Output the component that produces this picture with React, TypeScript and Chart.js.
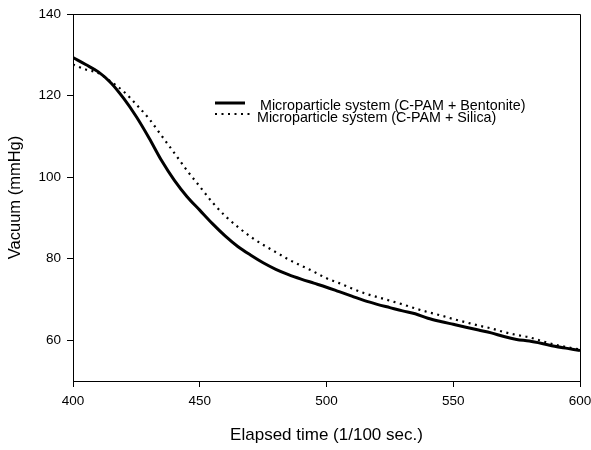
import React, { useEffect, useRef } from "react";
import { Chart, registerables } from "chart.js";

Chart.register(...registerables);

const times = [400, 405, 410, 415, 420, 425, 430, 435, 440, 445, 450, 455, 460, 465, 470, 475, 480, 485, 490, 495, 500, 505, 510, 515, 520, 525, 530, 535, 540, 545, 550, 555, 560, 565, 570, 575, 580, 585, 590, 595, 600];

const bentonite = [129.3, 127.6, 125.8, 123.1, 119.3, 114.8, 109.6, 104.0, 99.2, 95.2, 91.9, 88.6, 85.6, 83.0, 80.9, 79.0, 77.4, 76.1, 75.0, 74.0, 73.0, 71.9, 70.8, 69.7, 68.8, 68.0, 67.2, 66.5, 65.4, 64.6, 63.9, 63.2, 62.5, 61.8, 60.9, 60.2, 59.8, 59.2, 58.5, 58.0, 57.5];

const silica = [127.6, 126.4, 125.5, 123.4, 121.0, 117.8, 114.3, 110.1, 105.9, 101.6, 97.7, 93.8, 90.5, 87.8, 85.4, 83.4, 81.6, 79.8, 78.3, 76.8, 75.2, 74.0, 72.7, 71.5, 70.6, 69.7, 68.8, 67.8, 66.9, 66.1, 65.2, 64.4, 63.6, 62.9, 62.0, 61.3, 60.7, 59.8, 58.9, 58.3, 57.7];

const yTickValues = [60, 80, 100, 120, 140];
const seriesNames = ["Microparticle system (C-PAM + Bentonite)", "Microparticle system (C-PAM + Silica)"];
const xTitle = "Elapsed time (1/100 sec.)";
const yTitle = "Vacuum (mmHg)";

const FONT = "'Liberation Sans', Arial, sans-serif";

const boxPlugin = {
  id: "boxAndLegend",
  afterDraw(chart: any) {
    const { ctx, chartArea } = chart;
    ctx.save();
    ctx.strokeStyle = "#000";
    ctx.lineWidth = 1;
    ctx.beginPath();
    ctx.moveTo(chartArea.left, chartArea.top + 0.5);
    ctx.lineTo(chartArea.right + 0.5, chartArea.top + 0.5);
    ctx.lineTo(chartArea.right + 0.5, chartArea.bottom);
    ctx.stroke();

    // legend
    ctx.font = `14.3px ${FONT}`;
    ctx.fillStyle = "#000";
    ctx.textBaseline = "middle";
    ctx.textAlign = "left";
    ctx.lineWidth = 3;
    ctx.beginPath();
    ctx.moveTo(215, 103);
    ctx.lineTo(245, 103);
    ctx.stroke();
    ctx.fillText(seriesNames[0], 260, 106);
    ctx.lineWidth = 2.2;
    ctx.setLineDash([2, 4.5]);
    ctx.beginPath();
    ctx.moveTo(215, 114);
    ctx.lineTo(250, 114);
    ctx.stroke();
    ctx.setLineDash([]);
    ctx.fillText(seriesNames[1], 257, 118);
    ctx.restore();
  },
};

export default function App() {
  const ref = useRef<HTMLCanvasElement>(null);
  useEffect(() => {
    document.body.style.margin = "0";
    const chart = new Chart(ref.current!, {
      type: "line",
      data: {
        datasets: [
          {
            label: seriesNames[0],
            data: times.map((t, i) => ({ x: t, y: bentonite[i] })),
            borderColor: "#000",
            borderWidth: 3,
            pointRadius: 0,
            cubicInterpolationMode: "monotone",
            fill: false,
          },
          {
            label: seriesNames[1],
            data: times.map((t, i) => ({ x: t, y: silica[i] })),
            borderColor: "#000",
            borderWidth: 2.2,
            borderDash: [2, 4.5],
            pointRadius: 0,
            cubicInterpolationMode: "monotone",
            fill: false,
          },
        ],
      },
      options: {
        animation: false,
        responsive: false,
        layout: { padding: { left: 0, top: 14, right: 11, bottom: 0 } },
        plugins: { legend: { display: false }, tooltip: { enabled: false } },
        scales: {
          x: {
            type: "linear",
            min: 400,
            max: 600,
            ticks: { stepSize: 50, color: "#000", font: { family: FONT, size: 13.5 }, padding: 6, maxRotation: 0 },
            grid: { drawOnChartArea: false, drawTicks: true, tickLength: 6, color: "#000" },
            border: { display: true, color: "#000", width: 1 },
            title: { display: true, text: xTitle, color: "#000", font: { family: FONT, size: 17 }, padding: { top: 11, bottom: 4 } },
            afterFit: (s: any) => { s.height = 69; s.paddingLeft = 0; s.paddingRight = 0; },
          },
          y: {
            type: "linear",
            min: 50,
            max: 140,
            afterBuildTicks: (s: any) => { s.ticks = yTickValues.map((v) => ({ value: v })); },
            ticks: { color: "#000", font: { family: FONT, size: 13.5 }, padding: 6 },
            grid: { drawOnChartArea: false, drawTicks: true, tickLength: 6, color: "#000" },
            border: { display: true, color: "#000", width: 1 },
            title: { display: true, text: yTitle, color: "#000", font: { family: FONT, size: 16.5 }, padding: { top: 6, bottom: 4 } },
            afterFit: (s: any) => { s.width = 73; s.paddingTop = 0; s.paddingBottom = 0; },
          },
        },
      },
      plugins: [boxPlugin],
    });
    return () => chart.destroy();
  }, []);
  return (
    <div style={{ width: 591, height: 450, background: "#fff" }}>
      <canvas ref={ref} width={591} height={450} />
    </div>
  );
}
